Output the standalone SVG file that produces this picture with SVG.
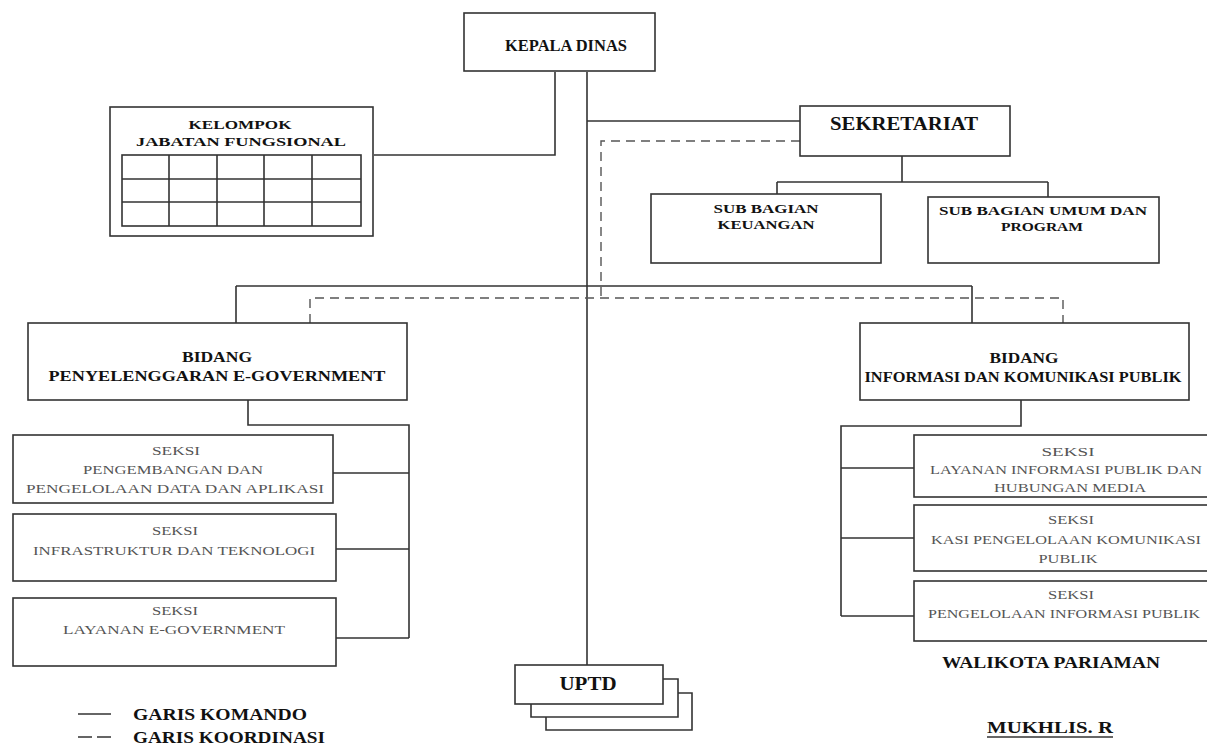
<svg xmlns="http://www.w3.org/2000/svg" width="1207" height="745" viewBox="0 0 1207 745">
<style>
.box{fill:#fff;stroke:#333;stroke-width:1.6}
.ln{fill:none;stroke:#333;stroke-width:1.6}
.dash{fill:none;stroke:#555;stroke-width:1.4;stroke-dasharray:9,6}
.t{font-family:"Liberation Serif","DejaVu Serif",serif;fill:#111;text-anchor:middle}
.hb{font-size:17px;font-weight:bold}
.cb{font-size:12.5px;font-weight:bold}
.bd{font-size:14px;font-weight:bold}
.sk{font-size:13.5px;fill:#555}
.big{font-size:17px;font-weight:bold}
</style>
<rect width="1207" height="745" fill="#fff"/>

<g id="connectors">
  <path class="ln" d="M587,72 V665"/>
  <path class="ln" d="M555,72 V155 H374"/>
  <path class="ln" d="M587,121 H800"/>
  <path class="ln" d="M902,156 V182 M777,182 H1048 M777,182 V194 M1048,182 V197"/>
  <path class="ln" d="M236,286 H972 M236,286 V323 M972,286 V323"/>
  <path class="ln" d="M248,400 V425 H409 V638 M333,473 H409 M336,549 H409 M336,638 H409"/>
  <path class="ln" d="M1021,400 V426 H841 V616 M841,468 H914 M841,538 H914 M841,616 H914"/>
  <path class="dash" d="M800,141 H601 V298"/>
  <path class="dash" d="M310,323 V298 H1063 V323"/>
</g>

<g id="kepala-dinas">
  <rect class="box" x="464" y="13" width="191" height="58"/>
  <text class="t hb" x="566" y="51" textLength="122" lengthAdjust="spacingAndGlyphs">KEPALA DINAS</text>
</g>

<g id="kelompok-jabatan-fungsional">
  <rect class="box" x="110" y="107" width="263" height="129"/>
  <text class="t cb" x="240" y="129" textLength="103" lengthAdjust="spacingAndGlyphs">KELOMPOK</text>
  <text class="t cb" x="241" y="146" textLength="210" lengthAdjust="spacingAndGlyphs">JABATAN FUNGSIONAL</text>
  <rect class="box" x="122" y="155" width="239" height="71"/>
  <path class="ln" d="M122,179 H361 M122,202 H361 M169,155 V226 M217,155 V226 M264,155 V226 M312,155 V226"/>
</g>

<g id="sekretariat">
  <rect class="box" x="800" y="106" width="210" height="50"/>
  <text class="t hb" style="font-size:19px" x="904" y="130" textLength="148" lengthAdjust="spacingAndGlyphs">SEKRETARIAT</text>
</g>

<g id="sub-bagian-keuangan">
  <rect class="box" x="651" y="194" width="230" height="69"/>
  <text class="t cb" x="766" y="213" textLength="105" lengthAdjust="spacingAndGlyphs">SUB BAGIAN</text>
  <text class="t cb" x="766" y="229" textLength="97" lengthAdjust="spacingAndGlyphs">KEUANGAN</text>
</g>

<g id="sub-bagian-umum">
  <rect class="box" x="928" y="197" width="231" height="66"/>
  <text class="t cb" x="1043" y="215" textLength="208" lengthAdjust="spacingAndGlyphs">SUB BAGIAN UMUM DAN</text>
  <text class="t cb" x="1042" y="231" textLength="82" lengthAdjust="spacingAndGlyphs">PROGRAM</text>
</g>

<g id="bidang-egov">
  <rect class="box" x="28" y="323" width="379" height="77"/>
  <text class="t bd" x="217" y="362" textLength="70" lengthAdjust="spacingAndGlyphs">BIDANG</text>
  <text class="t bd" x="217" y="381" textLength="337" lengthAdjust="spacingAndGlyphs">PENYELENGGARAN E-GOVERNMENT</text>
</g>

<g id="bidang-ikp">
  <rect class="box" x="860" y="323" width="329" height="77"/>
  <text class="t bd" x="1024" y="363" textLength="69" lengthAdjust="spacingAndGlyphs">BIDANG</text>
  <text class="t bd" x="1023" y="382" textLength="317" lengthAdjust="spacingAndGlyphs">INFORMASI DAN KOMUNIKASI PUBLIK</text>
</g>

<g id="seksi-pengembangan">
  <rect class="box" x="13" y="435" width="320" height="68"/>
  <text class="t sk" x="176" y="455" textLength="48" lengthAdjust="spacingAndGlyphs">SEKSI</text>
  <text class="t sk" x="173" y="474" textLength="180" lengthAdjust="spacingAndGlyphs">PENGEMBANGAN DAN</text>
  <text class="t sk" x="175" y="493" textLength="298" lengthAdjust="spacingAndGlyphs">PENGELOLAAN DATA DAN APLIKASI</text>
</g>

<g id="seksi-infrastruktur">
  <rect class="box" x="13" y="514" width="323" height="67"/>
  <text class="t sk" x="175" y="535" textLength="46" lengthAdjust="spacingAndGlyphs">SEKSI</text>
  <text class="t sk" x="174" y="555" textLength="282" lengthAdjust="spacingAndGlyphs">INFRASTRUKTUR DAN TEKNOLOGI</text>
</g>

<g id="seksi-layanan-egov">
  <rect class="box" x="13" y="598" width="323" height="68"/>
  <text class="t sk" x="175" y="615" textLength="46" lengthAdjust="spacingAndGlyphs">SEKSI</text>
  <text class="t sk" x="174" y="634" textLength="222" lengthAdjust="spacingAndGlyphs">LAYANAN E-GOVERNMENT</text>
</g>

<g id="seksi-layanan-informasi">
  <rect class="box" x="914" y="435" width="316" height="62"/>
  <text class="t sk" x="1068" y="456" textLength="53" lengthAdjust="spacingAndGlyphs">SEKSI</text>
  <text class="t sk" x="1066" y="474" textLength="272" lengthAdjust="spacingAndGlyphs">LAYANAN INFORMASI PUBLIK DAN</text>
  <text class="t sk" x="1070" y="492" textLength="152" lengthAdjust="spacingAndGlyphs">HUBUNGAN MEDIA</text>
</g>

<g id="seksi-komunikasi-publik">
  <rect class="box" x="914" y="505" width="316" height="66"/>
  <text class="t sk" x="1071" y="524" textLength="46" lengthAdjust="spacingAndGlyphs">SEKSI</text>
  <text class="t sk" x="1066" y="544" textLength="270" lengthAdjust="spacingAndGlyphs">KASI PENGELOLAAN KOMUNIKASI</text>
  <text class="t sk" x="1068" y="563" textLength="59" lengthAdjust="spacingAndGlyphs">PUBLIK</text>
</g>

<g id="seksi-informasi-publik">
  <rect class="box" x="914" y="581" width="316" height="60"/>
  <text class="t sk" x="1071" y="599" textLength="46" lengthAdjust="spacingAndGlyphs">SEKSI</text>
  <text class="t sk" x="1064" y="618" textLength="272" lengthAdjust="spacingAndGlyphs">PENGELOLAAN INFORMASI PUBLIK</text>
</g>

<g id="uptd">
  <path class="ln" d="M546,717 V730 H692 V693 H678"/>
  <path class="ln" d="M531,704 V717 H678 V679 H663"/>
  <rect class="box" x="515" y="665" width="148" height="39"/>
  <text class="t" style="font-size:18px;font-weight:bold" x="588" y="690" textLength="57" lengthAdjust="spacingAndGlyphs">UPTD</text>
</g>

<g id="legend">
  <path class="ln" d="M78,714 H111"/>
  <path class="ln" d="M78,737 H92 M97,737 H111"/>
  <text class="t big" style="text-anchor:start" x="133" y="720" textLength="174" lengthAdjust="spacingAndGlyphs">GARIS KOMANDO</text>
  <text class="t big" style="text-anchor:start" x="133" y="743" textLength="192" lengthAdjust="spacingAndGlyphs">GARIS KOORDINASI</text>
</g>

<g id="signature">
  <text class="t big" x="1051" y="668" textLength="218" lengthAdjust="spacingAndGlyphs">WALIKOTA PARIAMAN</text>
  <text class="t big" x="1050" y="733" textLength="126" lengthAdjust="spacingAndGlyphs">MUKHLIS. R</text>
  <path class="ln" d="M987,737 H1113"/>
</g>
</svg>
